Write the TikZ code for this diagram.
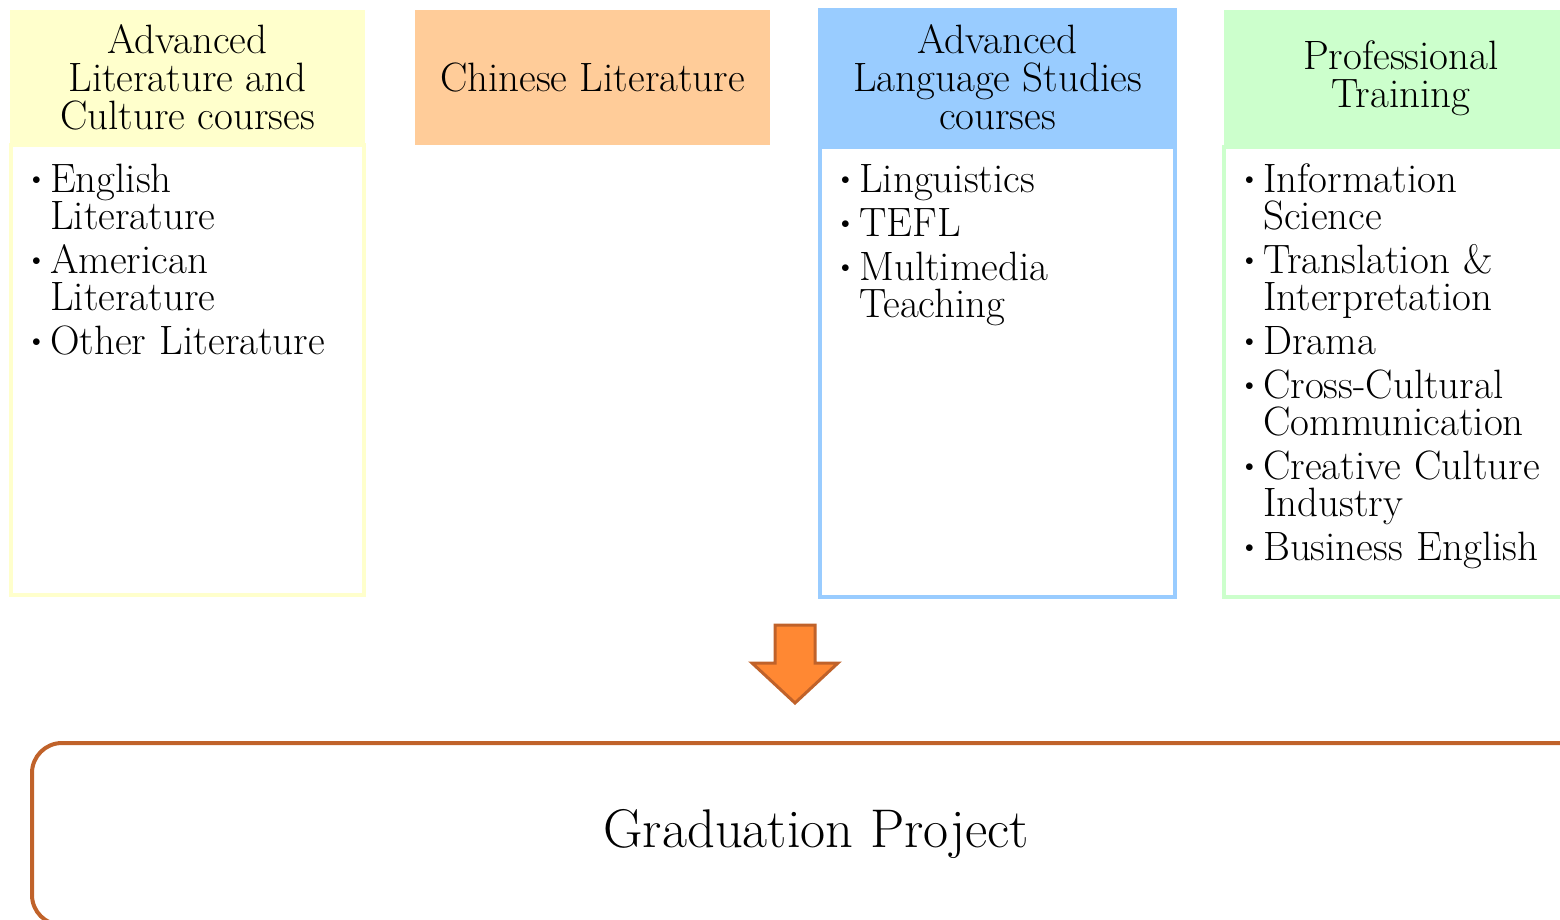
\documentclass[tikz,border=0pt]{standalone}
\usepackage{xcolor}
\usepackage{graphicx}
\usepackage{tikz}
\usetikzlibrary{positioning}

\definecolor{litcol}{HTML}{FFFFCC}
\definecolor{chncol}{HTML}{FFCC99}
\definecolor{langcol}{HTML}{99CCFF}
\definecolor{profcol}{HTML}{CCFFCC}
\definecolor{gradcol}{HTML}{C0622A}
\definecolor{arrcol}{HTML}{FF8833}

\newcommand{\bitem}{\par\hangindent=18pt\hangafter=1\noindent%
  \makebox[18pt][l]{\raisebox{8pt}{\fontsize{18}{18}\selectfont$\bullet$}}}
\newcommand{\nl}{\hfil\break}

\begin{document}
\begin{tikzpicture}[x=1pt, y=1pt,
    head/.style={rectangle, inner sep=0, outer sep=0, align=center,
        font={\fontsize{41}{38}\selectfont}},
    body/.style={rectangle, line width=4pt, inner sep=0, outer sep=0,
        minimum height=450},
    items/.style={inner sep=0, text width=330pt,
        font={\fontsize{41}{37}\selectfont\raggedright\setlength{\parskip}{7pt}}},
    grad/.style={draw=gradcol, line width=4pt, rounded corners=30pt,
        minimum width=1568, minimum height=182, font={\fontsize{54.5}{54}\selectfont}}]
    \useasboundingbox (0,0) rectangle (1560,-920);
    \clip (0,0) rectangle (1560,-920);

    % column headers
    \node[head, fill=litcol, minimum width=355, minimum height=135] (lit) at (187.5,-77.5)
        {Advanced\\Literature and\\Culture courses};
    \node[head, fill=chncol, minimum width=355, minimum height=135] (chn) at (592.5,-77.5)
        {Chinese Literature};
    \node[head, fill=langcol, minimum width=359, minimum height=139] (lang) at (997.5,-77.5)
        {Advanced\\Language Studies\\courses};
    \node[head, fill=profcol, minimum width=354, minimum height=137] (prof) at (1401,-78.5)
        {Professional\\Training};

    % course boxes
    \node[body, draw=litcol, minimum width=353, below=0pt of lit] (litb) {};
    \node[body, draw=langcol, minimum width=355, below=0pt of lang] (langb) {};
    \node[body, draw=profcol, minimum width=354, below=0pt of prof] (profb) {};

    \node[items, below right=3pt and 21pt of litb.north west] (litl) {%
        \bitem English\nl Literature
        \bitem American\nl Literature
        \bitem Other Literature\par};
    \node[items, below right=1pt and 21pt of langb.north west] (langl) {%
        \bitem Linguistics
        \bitem TEFL
        \bitem Multimedia\nl Teaching\par};
    \node[items, below right=1pt and 21pt of profb.north west] (profl) {%
        \bitem Information\nl Science
        \bitem Translation \&\nl Interpretation
        \bitem Drama
        \bitem Cross-Cultural\nl Communication
        \bitem Creative Culture\nl Industry
        \bitem Business English\par};

    % down arrow
    \draw[fill=arrcol, draw=gradcol, line width=3pt, line join=miter]
        (775,-625) -- (815,-625) -- (815,-663) -- (838,-663) -- (795,-703)
        -- (752,-663) -- (775,-663) -- cycle;

    \node[grad] (gp) at (816,-834) {Graduation Project};
\end{tikzpicture}
\end{document}
